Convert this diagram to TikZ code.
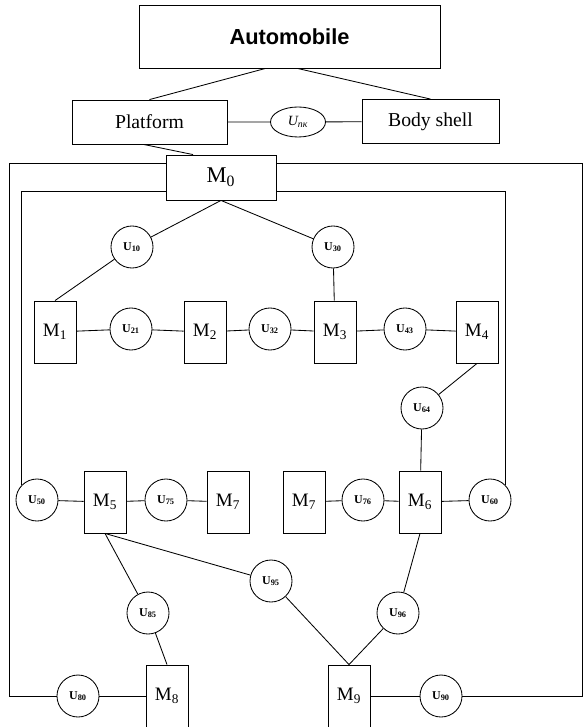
\documentclass[tikz,border=0pt]{standalone}
\usepackage{fontspec}
\setmainfont{Liberation Serif}
\newfontfamily\headfont{Liberation Sans}
\usetikzlibrary{
    shapes.geometric,
    positioning,
    calc
}

\begin{document}
\begin{tikzpicture}[x=0.025cm, y=-0.025cm, semithick,
    mbox/.style={draw, inner sep=0pt, minimum width=1.05cm, minimum height=1.55cm, font=\fontsize{13.5}{16}\selectfont},
    ucirc/.style={draw, circle, inner sep=0pt, minimum size=1.05cm, font=\fontsize{8.5}{10}\selectfont\bfseries},
    partbox/.style={draw, inner sep=0pt, minimum height=1.1cm, font=\fontsize{14}{16}\selectfont}]
        \useasboundingbox (0,0) rectangle (583,727);

        % Top level
        \node[draw, inner sep=0pt, minimum width=7.525cm, minimum height=1.575cm, font=\headfont\fontsize{15.5}{18}\selectfont\bfseries] (auto) at (289.5,36.5) {Automobile};
        \node[partbox, minimum width=3.875cm] (plat) at (149.5,122) {Platform};
        \node[partbox, minimum width=3.425cm] (body) at (430.5,121.5) {Body shell};
        \node[draw, ellipse, inner sep=0pt, minimum width=1.375cm, minimum height=0.75cm, font=\fontsize{10}{12}\selectfont\itshape] (upk) at (298,122) {U\textsubscript{пк}};

        \draw ([xshift=-0.6cm]auto.south) -- (plat.north);
        \draw ([xshift=0.2cm]auto.south) -- (body.north);
        \draw (plat) -- (upk) -- (body);

        % Base module
        \node[draw, inner sep=0pt, minimum width=2.75cm, minimum height=1.125cm, font=\fontsize{16}{18}\selectfont] (m0) at (221,177.5) {M\textsubscript{0}};
        \draw ([xshift=-0.15cm]plat.south) -- ([xshift=-0.7cm]m0.north);

        % First row
        \node[ucirc] (u10) at (132,247) {U\textsubscript{10}};
        \node[ucirc] (u30) at (333,247) {U\textsubscript{30}};
        \node[mbox] (m1) at (55,332) {M\textsubscript{1}};
        \node[mbox] (m2) at (205,332) {M\textsubscript{2}};
        \node[mbox] (m3) at (335,332) {M\textsubscript{3}};
        \node[mbox] (m4) at (477,332) {M\textsubscript{4}};
        \node[ucirc] (u21) at (131,329) {U\textsubscript{21}};
        \node[ucirc] (u32) at (270,329) {U\textsubscript{32}};
        \node[ucirc] (u43) at (405,329) {U\textsubscript{43}};

        \draw (m0.south) -- (u10) -- (m1.north);
        \draw (m0.south) -- (u30) -- (m3);
        \draw (m1) -- (u21) -- (m2) -- (u32) -- (m3) -- (u43) -- (m4);

        % Second row
        \node[ucirc] (u64) at (422,408) {U\textsubscript{64}};
        \node[mbox] (m5) at (105,502) {M\textsubscript{5}};
        \node[mbox] (m7a) at (228,502) {M\textsubscript{7}};
        \node[mbox] (m7b) at (304,502) {M\textsubscript{7}};
        \node[mbox] (m6) at (420,502) {M\textsubscript{6}};
        \node[ucirc] (u50) at (37,500) {U\textsubscript{50}};
        \node[ucirc] (u75) at (166,500) {U\textsubscript{75}};
        \node[ucirc] (u76) at (363,500) {U\textsubscript{76}};
        \node[ucirc] (u60) at (490,500) {U\textsubscript{60}};

        \draw (m4.south) -- (u64) -- (m6);
        \draw (u50) -- (m5) -- (u75) -- (m7a);
        \draw (m7b) -- (u76) -- (m6) -- (u60);

        % Third row
        \node[ucirc] (u95) at (271,581) {U\textsubscript{95}};
        \node[ucirc] (u85) at (148,613) {U\textsubscript{85}};
        \node[ucirc] (u96) at (398,613) {U\textsubscript{96}};
        \node[mbox] (m8) at (167,696) {M\textsubscript{8}};
        \node[mbox] (m9) at (349,696) {M\textsubscript{9}};
        \node[ucirc] (u80) at (78,696) {U\textsubscript{80}};
        \node[ucirc] (u90) at (441,696) {U\textsubscript{90}};

        \draw (m5.south) -- (u85) -- (m8.north);
        \draw (m5.south) -- (u95) -- (m9.north);
        \draw (m6.south) -- (u96) -- (m9.north);
        \draw (u80) -- (m8);
        \draw (m9) -- (u90);

        % Loops
        \coordinate (outsw) at (9,696);
        \coordinate (outse) at (582,696);
        \draw ([yshift=0.36cm]m0.west) -| (outsw) -- (u80);
        \draw ([yshift=0.36cm]m0.east) -| (outse) -- (u90);
        \draw ([yshift=-0.36cm]m0.west) -| (u50.north west);
        \draw ([yshift=-0.36cm]m0.east) -| (u60.north east);
\end{tikzpicture}
\end{document}
